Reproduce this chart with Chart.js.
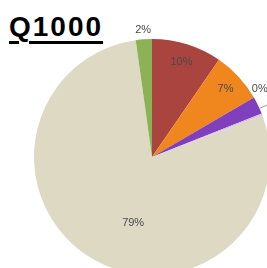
<!DOCTYPE html>
<html>
<head>
<meta charset="utf-8">
<script src="https://cdn.jsdelivr.net/npm/chart.js@4/dist/chart.umd.min.js"></script>
<style>
  html, body { margin: 0; padding: 0; width: 267px; height: 268px; overflow: hidden; background: #fff; }
  #title { position: absolute; left: 9px; top: 13px; font: bold 28px "Liberation Sans", Arial, sans-serif; line-height: 28px; letter-spacing: 2px; color: #000; text-decoration: underline; text-decoration-thickness: 3px; text-underline-offset: 5px; }
  #wrap { position: absolute; left: 0; top: 0; width: 300px; height: 300px; }
</style>
</head>
<body>
<div id="title">Q1000</div>
<div id="wrap"><canvas id="c" width="300" height="300"></canvas></div>
<script>
// Data (in clockwise order from 12 o'clock)
const categories = ["Category 1", "Category 2", "Category 3", "Category 4", "Category 5", "Category 6"];
const values = [9.6, 7.0, 2.4, 0.2, 78.6, 2.2];
const colors = ["#A9443F", "#F0861E", "#8040BE", "#D8B8E8", "#DDD9C3", "#8CB256"];
// Label placement: [angle offset from slice middle (deg), radius fraction]; null = not shown (off-picture)
const labelPlacement = [[0, 0.84], [0, 0.85], null, [-11, 1.08], [-14.6, 0.58], [0, 1.08]];
const leaderLines = [false, false, false, true, false, false];

const total = values.reduce((a, b) => a + b, 0);

const labelPlugin = {
  id: 'pieLabels',
  afterDatasetsDraw(chart) {
    const ctx = chart.ctx;
    const meta = chart.getDatasetMeta(0);
    ctx.save();
    ctx.font = '11px "Liberation Sans", Arial, sans-serif';
    ctx.fillStyle = '#4a4a4a';
    ctx.textAlign = 'center';
    ctx.textBaseline = 'middle';
    meta.data.forEach((arc, i) => {
      const p = labelPlacement[i];
      if (!p) return;
      const mid = (arc.startAngle + arc.endAngle) / 2;
      const a = mid + p[0] * Math.PI / 180;
      const r = arc.outerRadius * p[1];
      const x = arc.x + Math.cos(a) * r;
      const y = arc.y + Math.sin(a) * r;
      if (leaderLines[i]) {
        const ex = arc.x + Math.cos(mid) * arc.outerRadius;
        const ey = arc.y + Math.sin(mid) * arc.outerRadius;
        ctx.beginPath();
        ctx.strokeStyle = '#9a9a9a';
        ctx.lineWidth = 1;
        ctx.moveTo(ex - 2, ey - 6);
        ctx.lineTo(x + 16, y + 12);
        ctx.stroke();
      }
      ctx.fillText(Math.round(values[i] / total * 100) + '%', x, y);
    });
    ctx.restore();
  }
};

new Chart(document.getElementById('c'), {
  type: 'pie',
  data: {
    labels: categories,
    datasets: [{ data: values, backgroundColor: colors, borderWidth: 0 }]
  },
  options: {
    responsive: false,
    animation: false,
    layout: { padding: { left: 34, top: 39, right: 30, bottom: 25 } },
    plugins: { legend: { display: false }, tooltip: { enabled: false }, title: { display: false } }
  },
  plugins: [labelPlugin]
});
</script>
</body>
</html>
